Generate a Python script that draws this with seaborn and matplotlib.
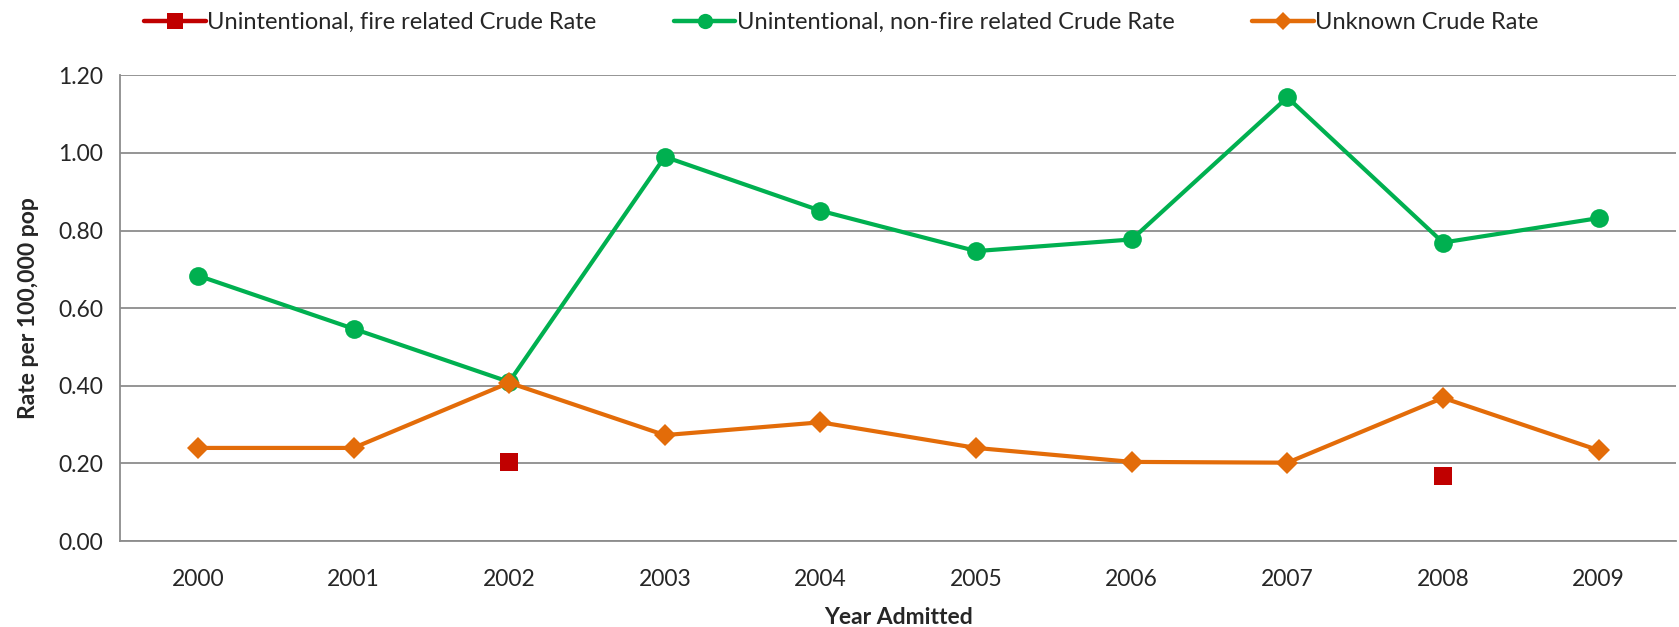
import matplotlib
matplotlib.use("Agg")
import matplotlib.pyplot as plt
from matplotlib.lines import Line2D
import numpy as np
import pandas as pd
import seaborn as sns

years = ["2000", "2001", "2002", "2003", "2004", "2005", "2006", "2007", "2008", "2009"]
fire_related = [np.nan, np.nan, 0.204, np.nan, np.nan, np.nan, np.nan, np.nan, 0.168, np.nan]
non_fire_related = [0.684, 0.547, 0.410, 0.990, 0.851, 0.747, 0.777, 1.143, 0.769, 0.832]
unknown = [0.240, 0.240, 0.408, 0.273, 0.306, 0.240, 0.204, 0.202, 0.369, 0.234]
series_names = ["Unintentional, fire related Crude Rate",
                "Unintentional, non-fire related Crude Rate",
                "Unknown Crude Rate"]
y_ticks = [0.0, 0.2, 0.4, 0.6, 0.8, 1.0, 1.2]

sns.set_theme(style="white")
plt.rcParams['font.family'] = ['Lato', 'DejaVu Sans']

RED = "#c00000"
GREEN = "#00b050"
ORANGE = "#e36c09"
GRID = "#8c8c8c"

x = np.arange(len(years))
df = pd.DataFrame({"x": x, "fire": fire_related, "nonfire": non_fire_related, "unknown": unknown})

fig = plt.figure(figsize=(16.79, 6.27), dpi=100)
ax = fig.add_axes([0.0715, 0.137, 0.927, 0.743])

sns.lineplot(data=df, x="x", y="nonfire", ax=ax, color=GREEN, linewidth=3.0,
             marker="o", markersize=13.5, markeredgewidth=0, zorder=3)
sns.lineplot(data=df, x="x", y="unknown", ax=ax, color=ORANGE, linewidth=3.0,
             marker="D", markersize=11, markeredgewidth=0, zorder=4)
sns.scatterplot(data=df.dropna(subset=["fire"]), x="x", y="fire", ax=ax, color=RED,
                marker="s", s=180, linewidth=0, zorder=5)

FS = 16.5
ax.set_xlim(-0.5, len(years) - 0.5)
ax.set_ylim(0, 1.2)
ax.set_yticks(y_ticks)
ax.set_yticklabels([f"{v:.2f}" for v in y_ticks], fontsize=FS)
ax.set_xticks(x)
ax.set_xticklabels(years, fontsize=FS)
ax.set_xticks(np.arange(-0.5, len(years), 1.0), minor=True)
ax.tick_params(axis="x", which="major", length=0, pad=20)
ax.tick_params(axis="x", which="minor", length=7, width=1.3, color=GRID, direction="out")
ax.tick_params(axis="y", which="major", length=6, width=1.3, color=GRID, direction="out", pad=6)
ax.grid(axis="y", color=GRID, linewidth=1.3)
ax.set_axisbelow(True)
for s in ["top", "right"]:
    ax.spines[s].set_visible(False)
for s in ["left", "bottom"]:
    ax.spines[s].set_color(GRID)
    ax.spines[s].set_linewidth(1.3)

ax.set_xlabel("Year Admitted", fontsize=FS, fontweight="bold", labelpad=12)
ax.set_ylabel("Rate per 100,000 pop", fontsize=FS, fontweight="bold", labelpad=14)

handles = [
    Line2D([], [], color=RED, linewidth=3.2, marker="s", markersize=11, markeredgewidth=0),
    Line2D([], [], color=GREEN, linewidth=3.2, marker="o", markersize=11, markeredgewidth=0),
    Line2D([], [], color=ORANGE, linewidth=3.2, marker="D", markersize=9, markeredgewidth=0),
]
fig.legend(handles, series_names, loc="upper center", bbox_to_anchor=(0.501, 1.015), ncol=3,
           frameon=False, fontsize=17, handlelength=2.6, handletextpad=0.05, columnspacing=3.3)

fig.savefig("out.png", dpi=100)
